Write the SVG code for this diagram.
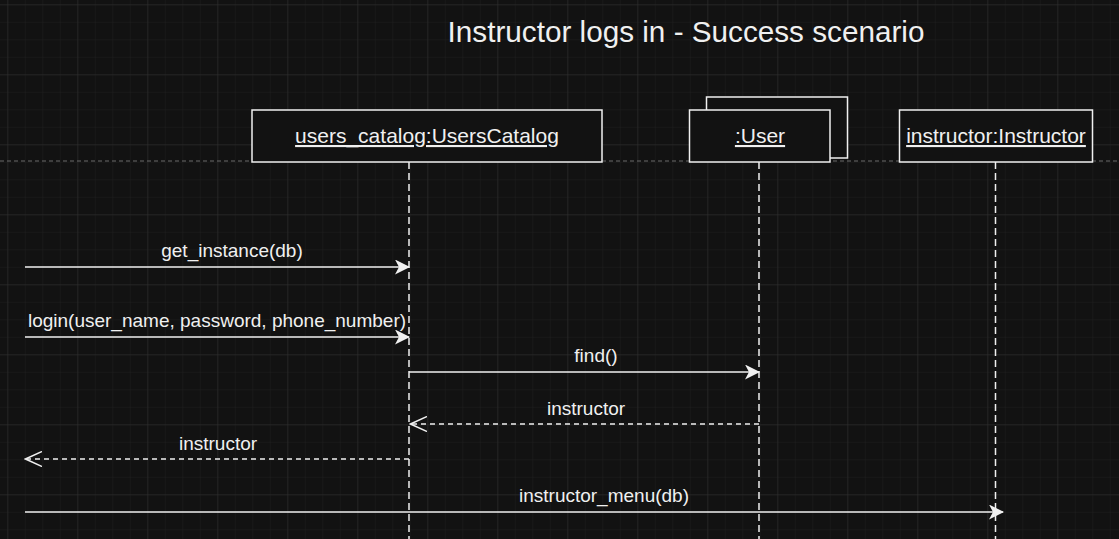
<svg xmlns="http://www.w3.org/2000/svg" width="1119" height="539" viewBox="0 0 1119 539">
<style>
.box{fill:#121212;stroke:#f0f0f0;stroke-width:1.5}
.name{font-family:"Liberation Sans",Arial,sans-serif;font-size:21px;fill:#f0f0f0;text-anchor:middle;text-decoration:underline}
.life{stroke:#f0f0f0;stroke-width:1.5;stroke-dasharray:7 4;fill:none}
.msg{stroke:#f0f0f0;stroke-width:1.5;fill:none}
.ret{stroke:#f0f0f0;stroke-width:1.5;fill:none;stroke-dasharray:5 4}
.lbl{font-family:"Liberation Sans",Arial,sans-serif;font-size:19px;fill:#f0f0f0;text-anchor:middle}
.title{font-family:"Liberation Sans",Arial,sans-serif;font-size:29.7px;fill:#f0f0f0;text-anchor:middle}
</style>
<defs>
<pattern id="minor" x="7.3" y="4.3" width="17.5" height="17.5" patternUnits="userSpaceOnUse">
<path d="M0 0H17.5M0 0V17.5" stroke="#1f1f1f" stroke-width="1" fill="none"/>
</pattern>
<pattern id="major" x="7.3" y="4.3" width="70" height="70" patternUnits="userSpaceOnUse">
<path d="M0 0H70M0 0V70" stroke="#2e2e2e" stroke-width="1" fill="none"/>
</pattern>
<marker id="block" viewBox="0 0 15 15" refX="14" refY="7.5" markerWidth="15" markerHeight="15" markerUnits="userSpaceOnUse" orient="auto">
<path d="M0 0L15 7.5L0 15L4 7.5Z" fill="#f0f0f0"/>
</marker>
<marker id="open" viewBox="0 0 18 16" refX="17" refY="8" markerWidth="18" markerHeight="16" markerUnits="userSpaceOnUse" orient="auto">
<path d="M0 0.5L16.5 8L0 15.5" fill="none" stroke="#f0f0f0" stroke-width="1.5"/>
</marker>
</defs>
<rect width="1119" height="539" fill="#121212"/>
<rect width="1119" height="539" fill="url(#minor)"/>
<rect width="1119" height="539" fill="url(#major)"/>
<line x1="0" y1="161" x2="1119" y2="161" stroke="#6a6a6a" stroke-width="1" stroke-dasharray="4 3"/>
<text class="title" x="686" y="42">Instructor logs in - Success scenario</text>
<g id="connectors">
<line class="life" x1="409" y1="162" x2="409" y2="539"/>
<line class="life" x1="759" y1="162" x2="759" y2="539"/>
<line class="life" x1="995.5" y1="162" x2="995.5" y2="539"/>
<line class="msg" x1="25" y1="267" x2="409" y2="267" marker-end="url(#block)"/>
<text class="lbl" x="232" y="257">get_instance(db)</text>
<line class="msg" x1="25" y1="337" x2="409" y2="337" marker-end="url(#block)"/>
<text class="lbl" x="217" y="327">login(user_name, password, phone_number)</text>
<line class="msg" x1="409" y1="372" x2="759" y2="372" marker-end="url(#block)"/>
<text class="lbl" x="596" y="362">find()</text>
<line class="ret" x1="759" y1="424" x2="410" y2="424" marker-end="url(#open)"/>
<text class="lbl" x="586" y="415">instructor</text>
<line class="ret" x1="409" y1="459" x2="25" y2="459" marker-end="url(#open)"/>
<text class="lbl" x="218" y="450">instructor</text>
<line class="msg" x1="25" y1="512" x2="1003" y2="512" marker-end="url(#block)"/>
<text class="lbl" x="604" y="502">instructor_menu(db)</text>
</g>
<g id="users_catalog">
<rect class="box" x="252" y="110" width="350" height="52"/>
<text class="name" x="427" y="143">users_catalog:UsersCatalog</text>
</g>
<g id="user">
<rect class="box" x="706.5" y="97" width="141" height="61"/>
<rect class="box" x="689.5" y="110" width="140.5" height="52"/>
<text class="name" x="760" y="143">:User</text>
</g>
<g id="instructor">
<rect class="box" x="899.5" y="110" width="193" height="52"/>
<text class="name" x="996" y="143">instructor:Instructor</text>
</g>
</svg>
